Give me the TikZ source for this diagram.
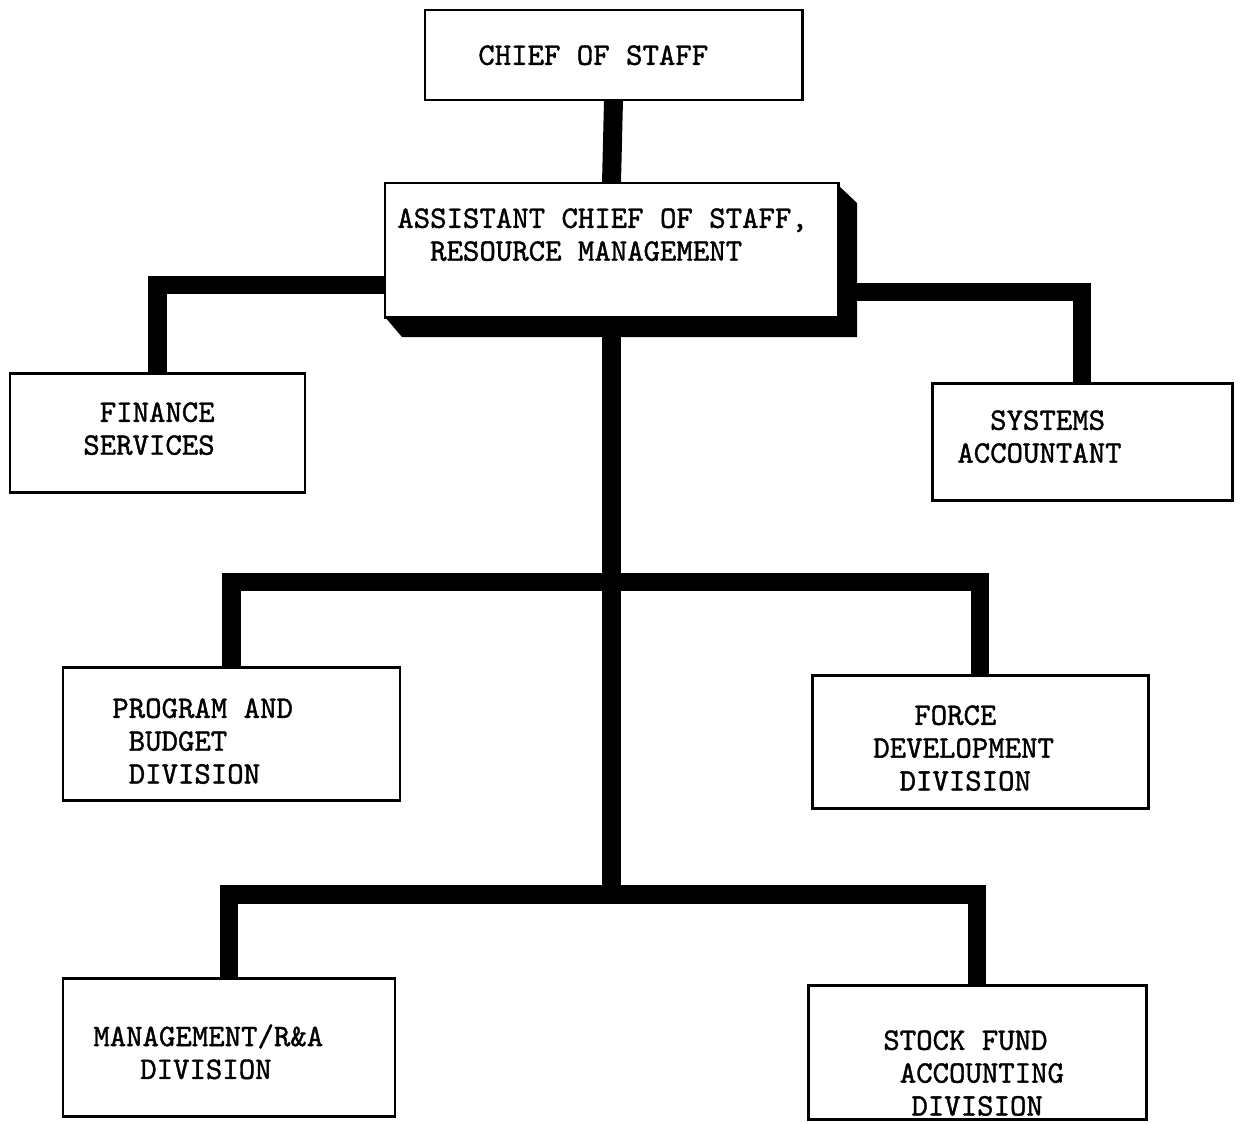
\documentclass[tikz,border=0pt]{standalone}
\usepackage{fontspec}
\usetikzlibrary{fit}
% typewriter face for all labels
\newfontfamily\tw{lmmono10-regular.otf}[FakeBold=1.2]
\newcommand\ind[1]{\hspace*{#1em}}
\begin{document}
\begin{tikzpicture}[x=0.02cm, y=-0.02cm,
  frame/.style={inner sep=0pt, outer sep=0pt},
  box/.style={draw, fill=white, line width=1.7pt, inner sep=0pt, rectangle},
  bar/.style={line width=10.8pt, line join=miter},
  lbl/.style={anchor=north west, inner sep=0pt, align=left,
    font=\tw\fontsize{17.8}{18.7}\selectfont}]
\useasboundingbox (0,0) rectangle (1241,1123);

% box frames (text is set separately)
\path[every node/.style={frame}]
  node[fit={(425,10) (802,100)}] (chief) {}
  node[fit={(385,183) (838,317)}] (acs) {}
  node[fit={(10,373) (305,492)}] (fin) {}
  node[fit={(932,383) (1232,500)}] (sys) {}
  node[fit={(63,667) (400,800)}] (pb) {}
  node[fit={(812,675) (1148,808)}] (fd) {}
  node[fit={(63,978) (395,1116)}] (mra) {}
  node[fit={(808,985) (1146,1119)}] (sf) {};

\coordinate (lbar) at (0,285);
\coordinate (rbar) at (0,292);
\coordinate (bar1) at (0,582);
\coordinate (bar2) at (0,894);

% connecting bars
\draw[bar] (chief.south) -- (acs.north);
\draw[bar] (acs.west |- lbar) -| (fin.north);
\draw[bar] (acs.east |- rbar) -| (sys.north);
\draw[bar] (acs.south) -- (acs.south |- bar2);
\draw[bar] (pb.north) |- (bar1 -| fd.north) -- (fd.north);
\draw[bar] (mra.north) |- (bar2 -| sf.north) -- (sf.north);

% raised block under the assistant chief's box
\fill (acs.south west) -- ++(17,20) -- (857,337) -- (857,203) -- (838,185) -- (acs.south east) -- cycle;

% box outlines on top of bars
\foreach \n in {chief,acs,fin,sys,pb,fd,mra,sf}
  \draw[box] (\n.south west) rectangle (\n.north east);

% labels
\node[lbl] (tchief) at (478,45) {CHIEF OF STAFF};
\node[lbl] (tacs) at (397,208) {ASSISTANT CHIEF OF STAFF,\\\ind{1.05}RESOURCE MANAGEMENT};
\node[lbl] (tfin) at (83,402) {\ind{0.525}FINANCE\\SERVICES};
\node[lbl] (tsys) at (957,410) {\ind{1.05}SYSTEMS\\ACCOUNTANT};
\node[lbl] (tpb) at (112,698) {PROGRAM AND\\\ind{0.525}BUDGET\\\ind{0.525}DIVISION};
\node[lbl] (tfd) at (873,705) {\ind{1.31}FORCE\\DEVELOPMENT\\\ind{0.84}DIVISION};
\node[lbl] (tmra) at (93,1024) {MANAGEMENT/R\&A\\\ind{1.5}DIVISION};
\node[lbl] (tsf) at (883,1030) {STOCK FUND\\\ind{0.525}ACCOUNTING\\\ind{0.9}DIVISION};
\end{tikzpicture}
\end{document}
